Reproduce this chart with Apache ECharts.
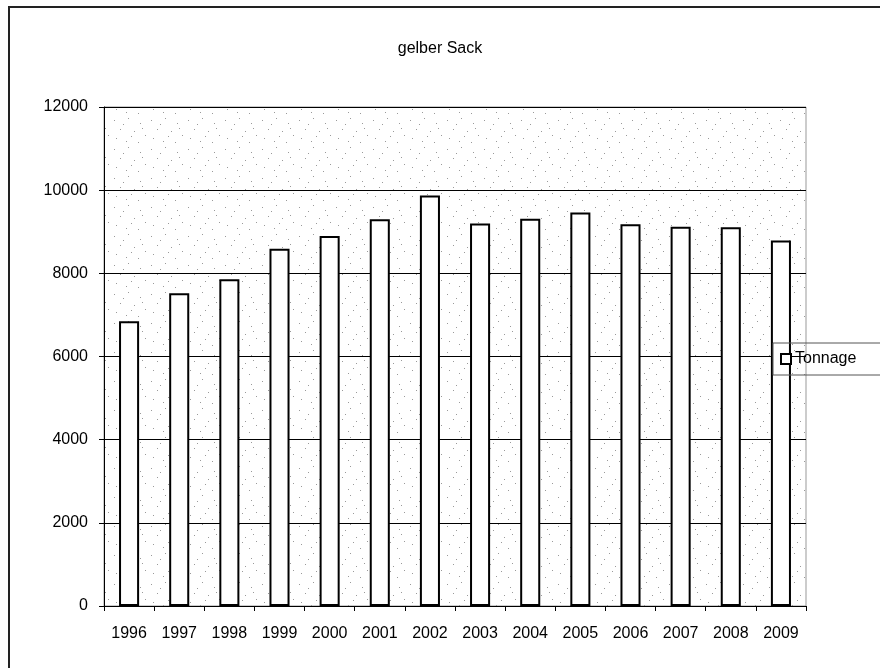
<!DOCTYPE html>
<html>
<head>
<meta charset="utf-8">
<script src="https://cdn.jsdelivr.net/npm/echarts@6/dist/echarts.min.js"></script>
<style>
html,body{margin:0;padding:0;background:#fff;}
#chart{width:880px;height:668px;}
</style>
</head>
<body>
<div id="chart"></div>
<script>
// Tonnage collected through the "gelber Sack" per year
const years = ['1996','1997','1998','1999','2000','2001','2002','2003','2004','2005','2006','2007','2008','2009'];
const tonnage = [6850, 7520, 7860, 8590, 8900, 9300, 9870, 9200, 9310, 9460, 9180, 9120, 9110, 8790];
const yTicks = [0, 2000, 4000, 6000, 8000, 10000, 12000];

// light stippled fill for the plot area
function stipple() {
  const c = document.createElement('canvas');
  c.width = 37; c.height = 29;
  const g = c.getContext('2d');
  g.fillStyle = '#ffffff';
  g.fillRect(0, 0, c.width, c.height);
  g.fillStyle = '#9a9a9a';
  const dots = [[3,4],[17,2],[29,7],[9,13],[23,15],[34,19],[5,22],[15,25],[27,26],[12,8],[31,12],[20,20]];
  dots.forEach(d => g.fillRect(d[0], d[1], 1, 1));
  return c;
}

const chart = echarts.init(document.getElementById('chart'), null, {renderer: 'canvas'});
chart.setOption({
  animation: false,
  backgroundColor: '#ffffff',
  textStyle: {fontFamily: 'Liberation Sans, Arial, sans-serif'},
  title: {
    text: 'gelber Sack',
    left: 'center',
    top: 36,
    textStyle: {fontSize: 16, fontWeight: 'normal', color: '#000'}
  },
  legend: {
    left: 773,
    top: 343,
    orient: 'vertical',
    itemWidth: 10,
    itemHeight: 10,
    itemGap: 0,
    padding: [8, 30, 8, 7],
    borderColor: '#555',
    borderWidth: 1,
    textStyle: {fontSize: 16, color: '#000', padding: [0, 0, 0, -1]},
    icon: 'rect',
    data: [{name: 'Tonnage', itemStyle: {color: '#fff', borderColor: '#000', borderWidth: 2}}]
  },
  graphic: [{
    type: 'rect',
    shape: {x: 9, y: 7, width: 900, height: 700},
    style: {fill: 'none', stroke: '#222', lineWidth: 2},
    silent: true,
    z: -1
  }],
  grid: {
    left: 104, right: 74, top: 107, bottom: 62,
    show: true,
    backgroundColor: {image: stipple(), repeat: 'repeat'},
    borderColor: '#999',
    borderWidth: 1
  },
  xAxis: {
    type: 'category',
    data: years,
    boundaryGap: true,
    axisLine: {lineStyle: {color: '#000', width: 1}},
    axisTick: {show: true, inside: false, length: 5, lineStyle: {color: '#000'}},
    axisLabel: {fontSize: 16, color: '#000', margin: 20}
  },
  yAxis: {
    type: 'value',
    min: 0, max: 12000, interval: 2000,
    axisLine: {show: true, lineStyle: {color: '#000', width: 1}},
    axisTick: {show: true, length: 5, lineStyle: {color: '#000'}},
    axisLabel: {fontSize: 16, color: '#000', margin: 16,
      formatter: v => yTicks.includes(v) ? String(v) : ''},
    splitLine: {show: true, lineStyle: {color: '#000', width: 1}}
  },
  series: [{
    name: 'Tonnage',
    type: 'bar',
    data: tonnage,
    barWidth: '40%',
    itemStyle: {color: '#ffffff', borderColor: '#000', borderWidth: 2}
  }]
});
</script>
</body>
</html>
